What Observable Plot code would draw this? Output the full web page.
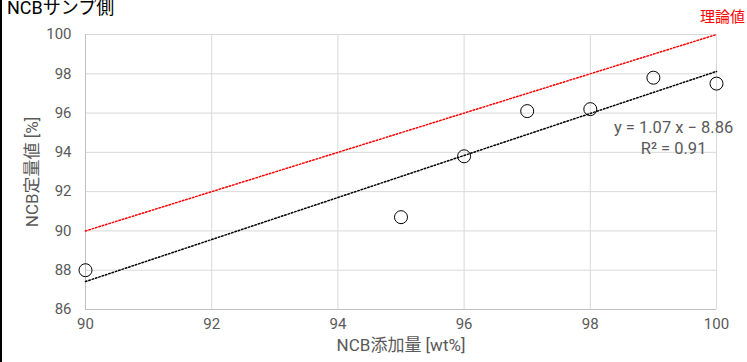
<!DOCTYPE html>
<html>
<head>
<meta charset="utf-8">
<script src="https://cdn.jsdelivr.net/npm/d3@7"></script>
<script src="https://cdn.jsdelivr.net/npm/@observablehq/plot@0.6"></script>
<style>
  html, body { margin: 0; padding: 0; background: #fff; overflow: hidden; }
  #wrap { position: relative; width: 747px; height: 362px; font-family: Roboto, "Noto Sans CJK JP", sans-serif; }
  #title { position: absolute; left: 7px; top: -7px; font-size: 18px; color: #000; white-space: nowrap; font-family: Roboto, "Noto Sans CJK JP", sans-serif; }
  #edge { position: absolute; left: 0; top: 0; width: 2px; height: 362px; background: #000; }
  .lbl17 text { font-size: 17px; }
</style>
</head>
<body>
<div id="wrap">
  <div id="chart"></div>
  <div id="title">NCBサンプ側</div>
  <div id="edge"></div>
</div>
<script>
const title = "NCBサンプ側";
const xLabel = "NCB添加量 [wt%]";
const yLabel = "NCB定量値 [%]";
const addedWt = [90, 95, 96, 97, 98, 99, 100];
const measured = [88.0, 90.7, 93.8, 96.1, 96.2, 97.8, 97.5];
const idealX = [90, 100];
const idealY = [90, 100];
const idealLabel = "理論値";
const eqLines = ["y = 1.07 x − 8.86", "R² = 0.91"];
const xTicks = [90, 92, 94, 96, 98, 100];
const yTicks = [86, 88, 90, 92, 94, 96, 98, 100];

document.getElementById("title").textContent = title;

const pts = addedWt.map((x, i) => ({x, y: measured[i]}));
const ideal = idealX.map((x, i) => ({x, y: idealY[i]}));

const chart = Plot.plot({
  width: 747,
  height: 362,
  marginLeft: 85,
  marginRight: 31,
  marginTop: 34,
  marginBottom: 53,
  style: {fontFamily: 'Roboto, "Noto Sans CJK JP", sans-serif', fontSize: "15px", color: "#595959", background: "transparent"},
  x: {domain: [90, 100], ticks: xTicks},
  y: {domain: [86, 100], ticks: yTicks},
  marks: [
    Plot.gridX(xTicks, {stroke: "#d9d9d9", strokeOpacity: 1, strokeWidth: 1}),
    Plot.gridY(yTicks, {stroke: "#d9d9d9", strokeOpacity: 1, strokeWidth: 1}),
    Plot.ruleX([90], {stroke: "#bfbfbf", strokeWidth: 1}),
    Plot.ruleY([86], {stroke: "#bfbfbf", strokeWidth: 1}),
    Plot.axisX(xTicks, {tickSize: 0, tickPadding: 9, fontSize: 15, fill: "#595959", label: null}),
    Plot.axisY(yTicks, {tickSize: 0, tickPadding: 14, fontSize: 15, fill: "#595959", label: null}),
    Plot.text([xLabel], {frameAnchor: "bottom", text: d => d, dy: 41, fontSize: 17, fill: "#595959", textAnchor: "middle"}),
    Plot.text([yLabel], {frameAnchor: "left", text: d => d, dx: -53, rotate: -90, fontSize: 17, fill: "#595959", textAnchor: "middle"}),
    Plot.line(ideal, {x: "x", y: "y", stroke: "#ff0000", strokeWidth: 1.5, strokeDasharray: "1.5,2"}),
    Plot.linearRegressionY(pts, {x: "x", y: "y", stroke: "#000", strokeWidth: 1.5, strokeDasharray: "1.5,2", ci: 0}),
    Plot.dot(pts, {x: "x", y: "y", r: 6.5, stroke: "#000", strokeWidth: 1, fill: "none"}),
    Plot.text([idealLabel], {x: 100, y: 100, text: d => d, dx: 6, dy: -17, fill: "#ff0000", fontSize: 15, textAnchor: "middle"}),
    Plot.text([eqLines.join("\n")], {x: 99.32, y: 94.8, text: d => d, fill: "#595959", fontSize: 16.5, textAnchor: "middle", lineHeight: 1.25})
  ]
});
document.getElementById("chart").appendChild(chart);
</script>
</body>
</html>
